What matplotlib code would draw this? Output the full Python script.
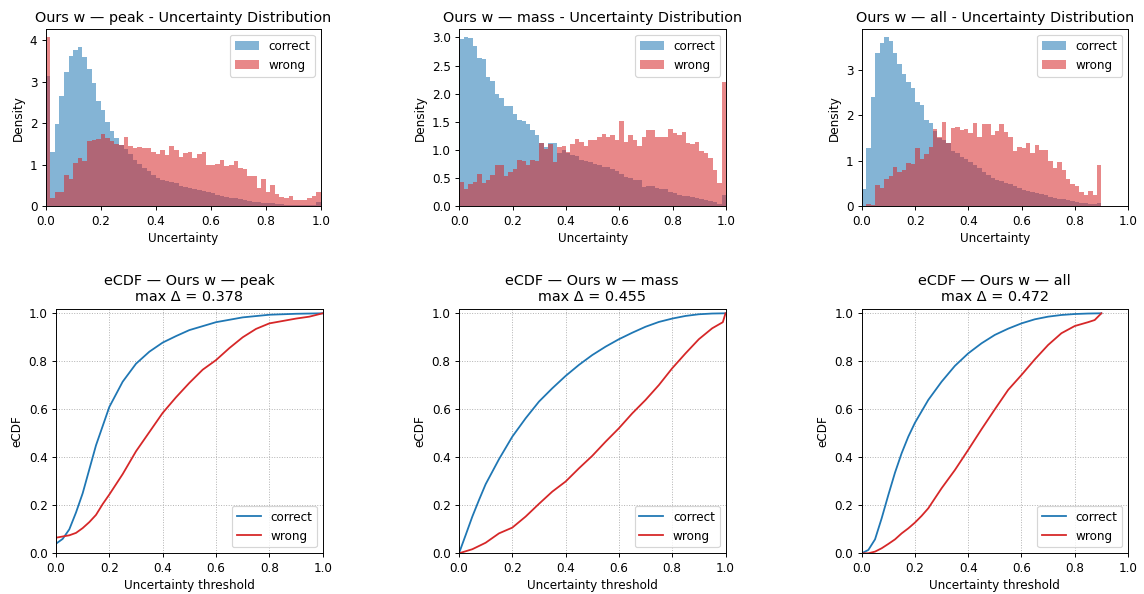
import numpy as np
import matplotlib
matplotlib.use("Agg")
import matplotlib.pyplot as plt

# ---------------- data ----------------
methods = ["peak", "mass", "all"]
max_delta = [0.378, 0.455, 0.472]
n_bins = 60
bin_edges = np.linspace(0.0, 1.0, n_bins + 1)

# histogram densities (60 bins on [0, 1])
peak_correct = [3.13, 1.31, 1.98, 2.65, 3.23, 3.62, 3.77, 3.83, 3.60, 3.30,
                2.97, 2.54, 2.32, 2.02, 1.81, 1.64, 1.48, 1.37, 1.25, 1.12,
                1.02, 0.92, 0.85, 0.76, 0.69, 0.64, 0.61, 0.58, 0.55, 0.50,
                0.47, 0.45, 0.42, 0.39, 0.36, 0.34, 0.31, 0.28, 0.26, 0.23,
                0.21, 0.19, 0.17, 0.15, 0.13, 0.11, 0.10, 0.09, 0.08, 0.07,
                0.06, 0.05, 0.04, 0.04, 0.03, 0.03, 0.02, 0.02, 0.02, 0.10]
peak_wrong = [4.07, 0.20, 0.35, 0.35, 0.75, 0.67, 1.05, 1.17, 1.09, 1.57,
              1.59, 1.62, 1.74, 1.65, 1.57, 1.50, 1.48, 1.66, 1.45, 1.40,
              1.42, 1.40, 1.41, 1.31, 1.27, 1.35, 1.23, 1.45, 1.35, 1.19,
              1.29, 1.31, 1.17, 1.27, 1.31, 0.99, 1.00, 1.02, 1.12, 0.98,
              0.99, 1.08, 0.93, 0.91, 0.73, 0.72, 0.45, 0.65, 0.35, 0.52,
              0.30, 0.22, 0.20, 0.25, 0.14, 0.15, 0.15, 0.19, 0.25, 0.35]
mass_correct = [2.97, 3.00, 2.99, 2.85, 2.64, 2.61, 2.29, 2.23, 1.99, 1.92,
                1.78, 1.79, 1.64, 1.54, 1.52, 1.47, 1.36, 1.26, 1.13, 1.05,
                1.13, 1.13, 0.95, 1.00, 0.95, 0.92, 0.90, 0.82, 0.80, 0.78,
                0.76, 0.74, 0.70, 0.69, 0.66, 0.63, 0.57, 0.52, 0.50, 0.47,
                0.47, 0.34, 0.36, 0.36, 0.32, 0.31, 0.31, 0.26, 0.24, 0.20,
                0.19, 0.18, 0.17, 0.14, 0.13, 0.11, 0.09, 0.07, 0.04, 0.20]
mass_wrong = [0.43, 0.31, 0.39, 0.44, 0.57, 0.41, 0.47, 0.55, 0.74, 0.74,
              0.53, 0.61, 0.67, 0.82, 0.80, 0.74, 0.83, 0.80, 1.12, 1.02,
              1.10, 0.78, 1.05, 1.08, 0.96, 1.11, 1.20, 1.15, 1.08, 1.18,
              1.18, 1.24, 1.29, 1.23, 1.27, 1.17, 1.52, 1.15, 1.27, 1.18,
              1.08, 1.24, 1.35, 1.35, 1.24, 1.23, 1.23, 1.38, 1.30, 1.27,
              1.32, 1.13, 1.10, 1.15, 0.99, 0.95, 0.85, 0.65, 0.42, 2.20]
all_correct = [0.38, 1.28, 2.41, 3.37, 3.59, 3.71, 3.64, 3.37, 3.13, 2.91,
               2.73, 2.61, 2.30, 2.22, 1.90, 1.83, 1.66, 1.50, 1.45, 1.38,
               1.22, 1.18, 1.09, 1.03, 0.97, 0.91, 0.84, 0.76, 0.68, 0.62,
               0.58, 0.55, 0.52, 0.48, 0.45, 0.40, 0.36, 0.33, 0.31, 0.29,
               0.27, 0.24, 0.21, 0.19, 0.17, 0.15, 0.13, 0.11, 0.10, 0.08,
               0.07, 0.06, 0.05, 0.08, 0.0, 0.0, 0.0, 0.0, 0.0, 0.0]
all_wrong = [0.0, 0.04, 0.03, 0.47, 0.41, 0.60, 0.67, 0.87, 0.76, 0.79,
             0.95, 0.93, 1.27, 1.05, 1.16, 1.30, 1.70, 1.53, 1.86, 1.40,
             1.72, 1.75, 1.68, 1.70, 1.61, 1.83, 1.53, 1.80, 1.80, 1.57,
             1.66, 1.80, 1.64, 1.53, 1.22, 1.31, 1.29, 1.39, 1.17, 1.35,
             1.24, 1.24, 1.00, 0.85, 0.98, 0.80, 0.60, 0.48, 0.45, 0.32,
             0.25, 0.34, 0.25, 0.91, 0.0, 0.0, 0.0, 0.0, 0.0, 0.0]

# eCDF curves (threshold, eCDF value)
peak_ecdf_correct_x = [0, 0.025, 0.05, 0.075, 0.1, 0.125, 0.15, 0.175, 0.2, 0.25,
                       0.3, 0.35, 0.4, 0.45, 0.5, 0.6, 0.7, 0.8, 0.9, 1.0]
peak_ecdf_correct_y = [0.04, 0.06, 0.10, 0.17, 0.25, 0.35, 0.45, 0.53, 0.61, 0.715,
                       0.79, 0.84, 0.878, 0.905, 0.93, 0.963, 0.983, 0.994, 0.998, 1.0]
peak_ecdf_wrong_x = [0, 0, 0.05, 0.075, 0.1, 0.125, 0.15, 0.175, 0.2, 0.25, 0.3,
                     0.35, 0.4, 0.45, 0.5, 0.55, 0.6, 0.65, 0.7, 0.75, 0.8, 0.85,
                     0.9, 0.95, 1.0]
peak_ecdf_wrong_y = [0, 0.065, 0.075, 0.085, 0.105, 0.13, 0.16, 0.205, 0.245, 0.33,
                     0.425, 0.505, 0.585, 0.65, 0.71, 0.765, 0.805, 0.855, 0.90,
                     0.935, 0.958, 0.968, 0.978, 0.986, 1.0]
mass_ecdf_correct_x = [0, 0.025, 0.05, 0.075, 0.1, 0.15, 0.2, 0.25, 0.3, 0.35, 0.4,
                       0.45, 0.5, 0.55, 0.6, 0.65, 0.7, 0.75, 0.8, 0.85, 0.9, 0.95, 1.0]
mass_ecdf_correct_y = [0, 0.076, 0.153, 0.222, 0.288, 0.392, 0.486, 0.5625, 0.632,
                       0.6875, 0.739, 0.785, 0.826, 0.861, 0.892, 0.919, 0.944,
                       0.964, 0.978, 0.989, 0.996, 0.999, 1.0]
mass_ecdf_wrong_x = [0, 0.05, 0.1, 0.15, 0.2, 0.25, 0.3, 0.35, 0.4, 0.45, 0.5, 0.55,
                     0.6, 0.65, 0.7, 0.75, 0.8, 0.85, 0.9, 0.95, 0.99, 1.0]
mass_ecdf_wrong_y = [0, 0.017, 0.044, 0.083, 0.107, 0.153, 0.206, 0.257, 0.299,
                     0.354, 0.406, 0.465, 0.521, 0.583, 0.639, 0.701, 0.771, 0.833,
                     0.892, 0.9375, 0.963, 1.0]
all_ecdf_correct_x = [0, 0.025, 0.05, 0.075, 0.1, 0.125, 0.15, 0.175, 0.2, 0.25, 0.3,
                      0.35, 0.4, 0.45, 0.5, 0.55, 0.6, 0.65, 0.7, 0.75, 0.8, 0.85, 0.9]
all_ecdf_correct_y = [0, 0.014, 0.058, 0.146, 0.243, 0.336, 0.417, 0.486, 0.544,
                      0.639, 0.715, 0.781, 0.833, 0.875, 0.91, 0.936, 0.958, 0.975,
                      0.986, 0.993, 0.997, 0.999, 1.0]
all_ecdf_wrong_x = [0, 0.025, 0.05, 0.075, 0.1, 0.125, 0.15, 0.175, 0.2, 0.225, 0.25,
                    0.3, 0.35, 0.4, 0.45, 0.5, 0.55, 0.6, 0.65, 0.7, 0.75, 0.8, 0.85,
                    0.875, 0.9]
all_ecdf_wrong_y = [0, 0, 0.007, 0.021, 0.039, 0.058, 0.083, 0.104, 0.128, 0.156,
                    0.1875, 0.271, 0.347, 0.431, 0.517, 0.60, 0.681, 0.743, 0.808,
                    0.868, 0.917, 0.947, 0.963, 0.972, 1.0]

hists = [(peak_correct, peak_wrong), (mass_correct, mass_wrong), (all_correct, all_wrong)]
ecdfs = [
    ((peak_ecdf_correct_x, peak_ecdf_correct_y), (peak_ecdf_wrong_x, peak_ecdf_wrong_y)),
    ((mass_ecdf_correct_x, mass_ecdf_correct_y), (mass_ecdf_wrong_x, mass_ecdf_wrong_y)),
    ((all_ecdf_correct_x, all_ecdf_correct_y), (all_ecdf_wrong_x, all_ecdf_wrong_y)),
]

# ---------------- figure ----------------
W, H = 1144, 594
DPI = 86
fig = plt.figure(figsize=(W / DPI, H / DPI), dpi=DPI)

def px_axes(x0, x1, ytop, ybot):
    return fig.add_axes([x0 / W, 1 - ybot / H, (x1 - x0) / W, (ybot - ytop) / H])

top_pos = [(45.7, 320.7), (459.3, 726.0), (862.0, 1128.0)]
bot_pos = [(56.0, 322.7), (459.0, 725.5), (861.7, 1128.0)]

widths = np.diff(bin_edges)
for k, m in enumerate(methods):
    ax = px_axes(top_pos[k][0], top_pos[k][1], 29.0, 206.3)
    corr, wrong = hists[k]
    ax.bar(bin_edges[:-1], corr, width=widths, align="edge", color="tab:blue",
           alpha=0.55, label="correct", linewidth=0)
    ax.bar(bin_edges[:-1], wrong, width=widths, align="edge", color="tab:red",
           alpha=0.55, label="wrong", linewidth=0)
    ax.set_xlim(0, 1)
    ax.set_title(f"Ours w — {m} - Uncertainty Distribution")
    ax.set_xlabel("Uncertainty")
    ax.set_ylabel("Density")
    ax.legend(loc="upper right")

for k, m in enumerate(methods):
    ax = px_axes(bot_pos[k][0], bot_pos[k][1], 308.5, 553.3)
    (cx, cy), (wx, wy) = ecdfs[k]
    ax.plot(cx, cy, color="tab:blue", label="correct")
    ax.plot(wx, wy, color="tab:red", label="wrong")
    ax.set_xlim(0, 1)
    ax.set_ylim(0, 1.02)
    ax.grid(True, linestyle=":")
    ax.set_title(f"eCDF — Ours w — {m}\nmax Δ = {max_delta[k]:.3f}")
    ax.set_xlabel("Uncertainty threshold")
    ax.set_ylabel("eCDF")
    ax.legend(loc="lower right")

fig.savefig("out.png", dpi=DPI)
